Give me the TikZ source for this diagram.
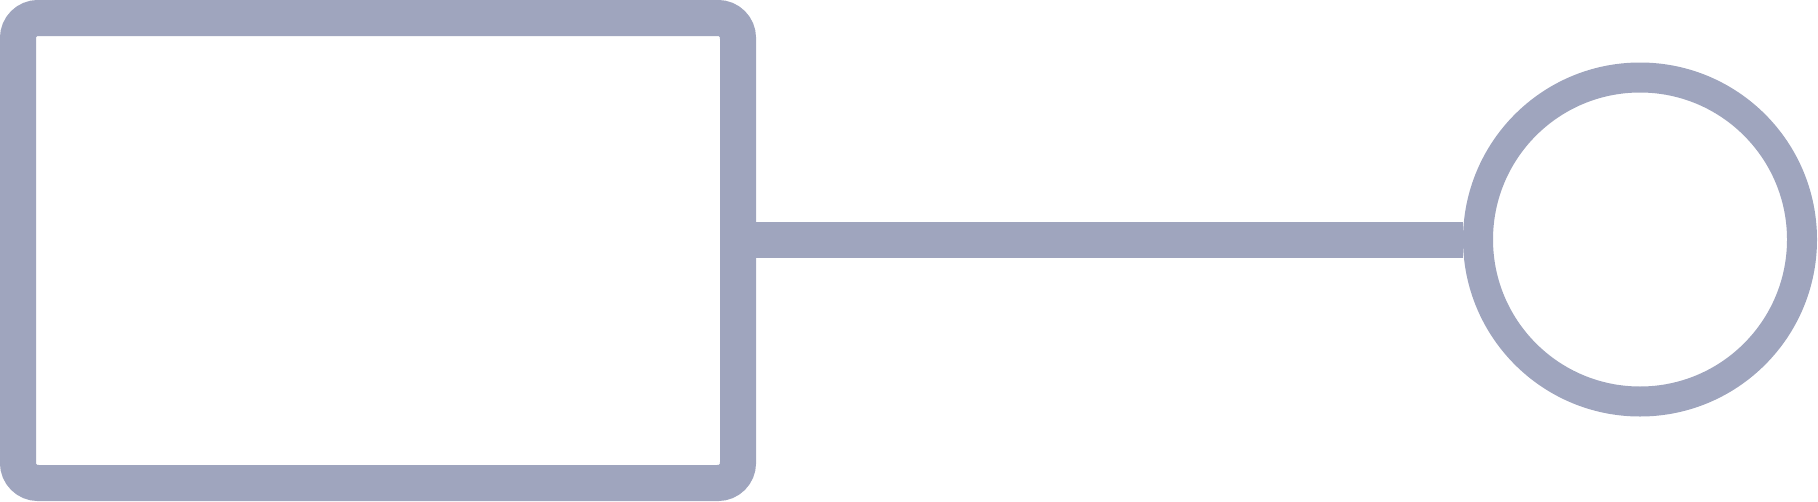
\documentclass[tikz,border=0pt]{standalone}
\definecolor{strokegray}{HTML}{9FA5BE}
\begin{document}
\begin{tikzpicture}[x=1pt,y=-1pt,
  boxshape/.style={draw=strokegray,line width=36pt,rounded corners=20pt,minimum width=720pt,minimum height=465pt,inner sep=0pt,fill=white},
  ringshape/.style={draw=strokegray,line width=30pt,circle,minimum size=324pt,inner sep=0pt,fill=white},
  link/.style={draw=strokegray,line width=36pt}]
\useasboundingbox (0,0) rectangle (1818,501);
\node[boxshape] (box) at (378,250.5) {};
\node[ringshape] (ring) at (1640,239.5) {};
\draw[link] (box.east |- ring.west) -- (ring.west);
\end{tikzpicture}
\end{document}
